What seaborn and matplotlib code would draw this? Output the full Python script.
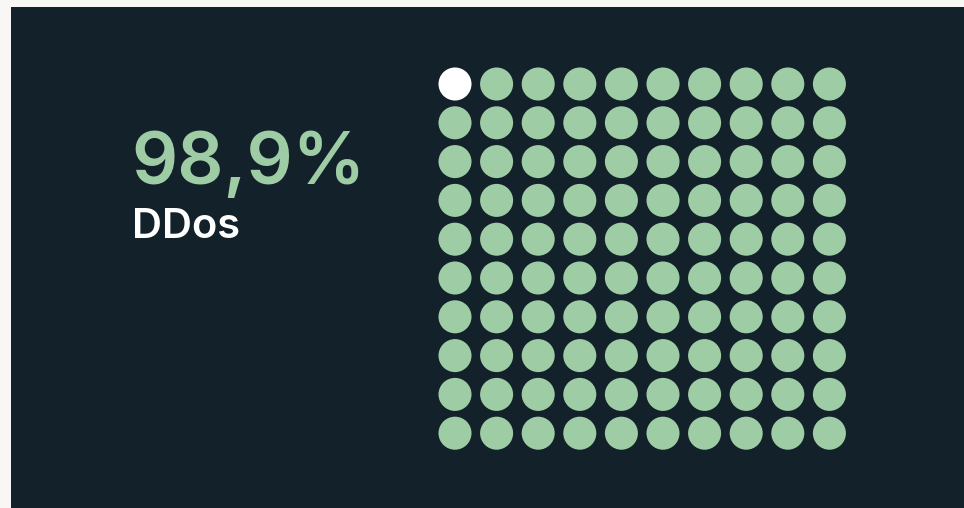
import numpy as np
import pandas as pd
import matplotlib
matplotlib.use("Agg")
import matplotlib.pyplot as plt
import seaborn as sns
from matplotlib.patches import Rectangle

# share of attacks, out of 100 dots
label = "DDos"
value_text = "98,9%"
share = 98.9
n_cols = 10
n_rows = 10

bg_outer = "#f8f7f6"
bg_panel = "#13212a"
green = "#9ecca5"
white = "#ffffff"

sns.set_theme(style="white")
plt.rcParams['font.family'] = ['Inter', 'DejaVu Sans']

W, H = 964, 508
fig = plt.figure(figsize=(W / 100, H / 100), dpi=100)
fig.patch.set_facecolor(bg_outer)

# background panel
base = fig.add_axes([0, 0, 1, 1])
base.set_xlim(0, W)
base.set_ylim(H, 0)
base.axis("off")
base.add_patch(Rectangle((11, 7), W - 11, H - 7, color=bg_panel, lw=0))

base.text(131, 184, value_text, color=green, fontsize=52, fontweight="semibold",
          ha="left", va="baseline")
base.text(132, 238, label, color=white, fontsize=30, fontweight="semibold",
          ha="left", va="baseline")

# waffle dots
n_green = int(round(share))
idx = np.arange(n_cols * n_rows)
dots = pd.DataFrame({
    "col": idx % n_cols,
    "row": idx // n_cols,
    "kind": np.where(idx < n_cols * n_rows - n_green, "other", "ddos"),
})

col_step, row_step = 41.6, 38.8
left = 455 - col_step / 2
top = 84 - row_step / 2
ax = fig.add_axes([left / W, 1 - (top + row_step * n_rows) / H,
                   col_step * n_cols / W, row_step * n_rows / H])
ax.patch.set_alpha(0)
sns.scatterplot(data=dots, x="col", y="row", hue="kind",
                palette={"ddos": green, "other": white},
                s=566, linewidth=0, legend=False, ax=ax)
ax.set_xlim(-0.5, n_cols - 0.5)
ax.set_ylim(n_rows - 0.5, -0.5)
ax.axis("off")

fig.savefig("out.png", dpi=100, facecolor=fig.get_facecolor())
